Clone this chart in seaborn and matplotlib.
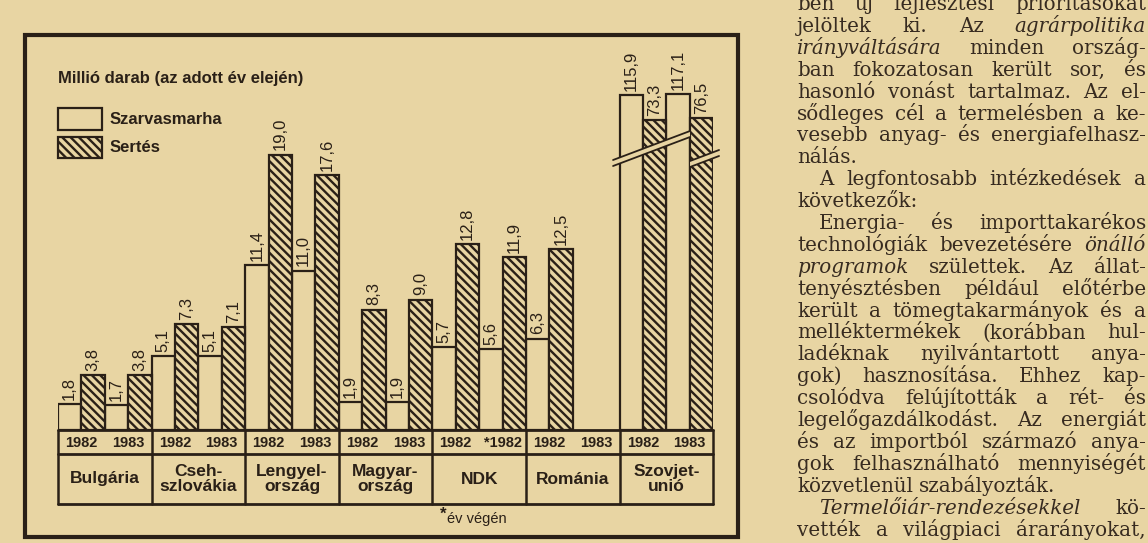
"""
Szarvasmarha- és sertésállomány a KGST-országokban, 1982-1983 (újságkivágás).
"""

import numpy as np
import pandas as pd
import matplotlib
matplotlib.use("Agg")
import matplotlib.pyplot as plt
import matplotlib.transforms as mtransforms
from matplotlib.patches import Rectangle, Polygon
from matplotlib.lines import Line2D
import seaborn as sns

W, H = 1148, 543
PAPER = "#e8d5a3"
INK = "#2a2017"
TEXT_INK = "#372b20"
HATCH = "\\\\\\\\"

sns.set_style("white")
plt.rcParams["font.family"] = ["Liberation Sans", "DejaVu Sans"]
plt.rcParams["hatch.linewidth"] = 1.7
plt.rcParams["hatch.color"] = INK

# --- data (millió darab, az adott év elején) ---
COUNTRIES = ["Bulgária", "Cseh-\nszlovákia", "Lengyel-\nország", "Magyar-\nország",
             "NDK", "Románia", "Szovjet-\nunió"]
YEARS = [("1982", "1983"), ("1982", "1983"), ("1982", "1983"), ("1982", "1983"),
         ("1982", "*1982"), ("1982", "1983"), ("1982", "1983")]
CATTLE = [1.8, 1.7, 5.1, 5.1, 11.4, 11.0, 1.9, 1.9, 5.7, 5.6, 6.3, np.nan, 115.9, 117.1]
PIGS = [3.8, 3.8, 7.3, 7.1, 19.0, 17.6, 8.3, 9.0, 12.8, 11.9, 12.5, np.nan, 73.3, 76.5]
SPECIES = ["Szarvasmarha", "Sertés"]

TITLE = "Millió darab (az adott év elején)"
FOOTNOTE = "év végén"

# broken value axis: linear up to ~20, then strongly compressed
BREAK_X = [-1000.0, 20.5, 55.0, 1000.0]
BREAK_Y = [-1000.0, 20.5, 20.6, 59.8]

ARTICLE = [
    ("ben új fejlesztési prioritásokat", 0, True),
    ("jelöltek ki. Az _agrárpolitika_", 0, True),
    ("_irányváltására_ minden ország-", 0, True),
    ("ban fokozatosan került sor, és", 0, True),
    ("hasonló vonást tartalmaz. Az el-", 0, True),
    ("sődleges cél a termelésben a ke-", 0, True),
    ("vesebb anyag- és energiafelhasz-", 0, True),
    ("nálás.", 0, False),
    ("A legfontosabb intézkedések a", 1, True),
    ("következők:", 0, False),
    ("Energia- és importtakarékos", 1, True),
    ("technológiák bevezetésére _önálló_", 0, True),
    ("_programok_ születtek. Az állat-", 0, True),
    ("tenyésztésben például előtérbe", 0, True),
    ("került a tömegtakarmányok és a", 0, True),
    ("melléktermékek (korábban hul-", 0, True),
    ("ladéknak nyilvántartott anya-", 0, True),
    ("gok) hasznosítása. Ehhez kap-", 0, True),
    ("csolódva felújították a rét- és", 0, True),
    ("legelőgazdálkodást. Az energiát", 0, True),
    ("és az importból származó anya-", 0, True),
    ("gok felhasználható mennyiségét", 0, True),
    ("közvetlenül szabályozták.", 0, False),
    ("_Termelőiár-rendezésekkel_ kö-", 1, True),
    ("vették a világpiaci árarányokat,", 0, True),
]


def fx(px):
    return px / W


def fy(py):
    return 1 - py / H


def fwd(v):
    return np.interp(v, BREAK_X, BREAK_Y)


def inv(v):
    return np.interp(v, BREAK_Y, BREAK_X)


rows = []
for i, country in enumerate(COUNTRIES):
    for j in range(2):
        slot = 4 * i + 2 * j
        rows.append({"slot": slot, "species": SPECIES[0], "value": CATTLE[2 * i + j]})
        rows.append({"slot": slot + 1, "species": SPECIES[1], "value": PIGS[2 * i + j]})
df = pd.DataFrame(rows)
n_slots = 4 * len(COUNTRIES)

fig = plt.figure(figsize=(W / 100, H / 100), dpi=100, facecolor=PAPER)
ax = fig.add_axes([fx(58), fy(430), fx(713.2) - fx(58), fy(40) - fy(430)])
ax.set_facecolor(PAPER)

sns.barplot(
    data=df, x="slot", y="value", hue="species",
    order=list(range(n_slots)), hue_order=SPECIES,
    palette={SPECIES[0]: PAPER, SPECIES[1]: PAPER},
    dodge=False, width=1, saturation=1, errorbar=None, legend=False,
    edgecolor=INK, linewidth=1.6, ax=ax,
)
ax.set_yscale("function", functions=(fwd, inv))
ax.set_xlim(-0.5, n_slots - 0.5)
ax.set_ylim(0, float(inv(390 / 14.5)))
ax.set_axis_off()

# pig bars (odd slots) get the diagonal hatch
for p in ax.patches:
    if int(round(p.get_x() + p.get_width() / 2)) % 2 == 1:
        p.set_hatch(HATCH)

for c in ax.containers:
    ax.bar_label(c, fmt=lambda v: f"{v:.1f}".replace(".", ","), rotation=90,
                 padding=3, fontsize=12, color=INK)

# break marks across the Soviet bars
xa = ax.get_xaxis_transform()


def ay(py):
    return (430 - py) / 390


for x0, x1, y0, y1 in [(23.22, 26.51, 166, 137), (26.51, 27.75, 167, 156)]:
    gap = 6
    band = Polygon([(x0, ay(y0)), (x1, ay(y1)), (x1, ay(y1 - gap)), (x0, ay(y0 - gap))],
                   closed=True, facecolor=PAPER, edgecolor="none", transform=xa,
                   clip_on=False, zorder=5)
    ax.add_patch(band)
    for off in (0, gap):
        ax.add_line(Line2D([x0, x1], [ay(y0 - off), ay(y1 - off)], transform=xa,
                           color=INK, lw=1.3, clip_on=False, zorder=6))

# table under the bars
bt = mtransforms.blended_transform_factory(ax.transData, fig.transFigure)
for py in [430, 454, 504]:
    fig.add_artist(Line2D([-0.5, n_slots - 0.5], [fy(py), fy(py)], transform=bt,
                          color=INK, lw=2.0))
for k in range(len(COUNTRIES) + 1):
    x = -0.5 + 4 * k
    fig.add_artist(Line2D([x, x], [fy(430), fy(504)], transform=bt, color=INK, lw=1.8))

for i, (country, yrs) in enumerate(zip(COUNTRIES, YEARS)):
    for j, yr in enumerate(yrs):
        fig.text(4 * i + 2 * j + 0.5, fy(443), yr, transform=bt, ha="center", va="center",
                 fontsize=10.5, fontweight="bold", color=INK)
    fig.text(4 * i + 1.5, fy(479), country, transform=bt, ha="center", va="center",
             fontsize=12.5, fontweight="bold", color=INK, linespacing=1.05)

fig.text(fx(446), fy(514), "*", ha="right", va="center", fontsize=12,
         fontweight="bold", color=INK)
fig.text(fx(447), fy(519), FOOTNOTE, ha="left", va="center", fontsize=10.5, color=INK)

# title and legend
fig.text(fx(58), fy(78), TITLE, ha="left", va="center", fontsize=12,
         fontweight="bold", color=INK)
fig.add_artist(Rectangle((fx(58), fy(130)), fx(102) - fx(58), fy(108) - fy(130),
                         transform=fig.transFigure, facecolor=PAPER, edgecolor=INK, lw=1.6))
fig.add_artist(Rectangle((fx(58), fy(158)), fx(102) - fx(58), fy(137) - fy(158),
                         transform=fig.transFigure, facecolor=PAPER, edgecolor=INK, lw=1.6,
                         hatch=HATCH))
fig.text(fx(110), fy(119), SPECIES[0], ha="left", va="center", fontsize=12,
         fontweight="bold", color=INK)
fig.text(fx(110), fy(147), SPECIES[1], ha="left", va="center", fontsize=12,
         fontweight="bold", color=INK)

# outer frame
fig.add_artist(Rectangle((fx(25), fy(537)), fx(738) - fx(25), fy(35) - fy(537),
                         transform=fig.transFigure, fill=False, edgecolor=INK, lw=3))

# newspaper column on the right, justified word by word
renderer = fig.canvas.get_renderer()
ART_SIZE = 14.3
space_w = 0.32 * ART_SIZE * 100 / 72


def art_text(x, y, word, italic):
    return fig.text(fx(x), fy(y), word, ha="left", va="baseline", fontsize=ART_SIZE,
                    family="DejaVu Serif", style="italic" if italic else "normal",
                    color=TEXT_INK)


for k, (line, indent, justify) in enumerate(ARTICLE):
    base = 10 + 21.9 * k
    words = [(w.strip("_"), w.startswith("_")) for w in line.split(" ")]
    widths = []
    for w, it in words:
        t = art_text(0, 0, w, it)
        widths.append(t.get_window_extent(renderer).width)
        t.remove()
    x = 797 + 22 * indent
    if justify and len(words) > 1:
        gap = max((1146 - x - sum(widths)) / (len(words) - 1), 3)
    else:
        gap = space_w
    for (w, it), wd in zip(words, widths):
        art_text(x, base, w, it)
        x += wd + gap

fig.savefig("out.png", dpi=100, facecolor=PAPER)
